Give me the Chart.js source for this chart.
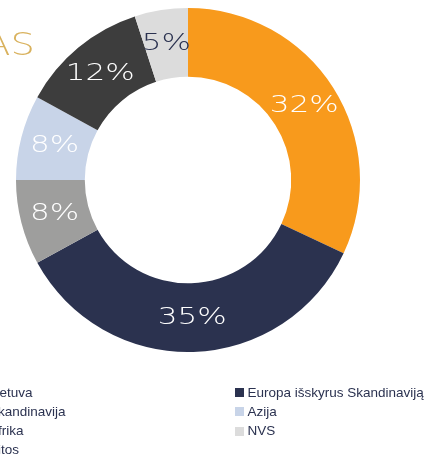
<!DOCTYPE html>
<html>
<head>
<meta charset="utf-8">
<script src="https://cdn.jsdelivr.net/npm/chart.js@4.4.1/dist/chart.umd.min.js"></script>
<style>
html,body{margin:0;padding:0;background:#fff;width:428px;height:461px;overflow:hidden;}
#page{position:relative;width:428px;height:461px;overflow:hidden;}
#chartBox{position:absolute;left:0;top:0;width:428px;height:461px;}
#title{position:absolute;right:393px;top:26px;font-family:"DejaVu Sans",sans-serif;font-weight:200;font-size:32.5px;line-height:36px;color:#D9B25E;white-space:nowrap;transform:scaleX(1.18);transform-origin:right center;}
.lg{position:absolute;font-family:"Liberation Sans",Arial,sans-serif;font-size:13.5px;line-height:16px;color:#2B3250;white-space:nowrap;}
.mk{position:absolute;width:9px;height:9px;}
</style>
</head>
<body>
<div id="page">
  <div id="chartBox"><canvas id="c"></canvas></div>
  <div id="title">AS</div>
  <div id="legend"></div>
</div>
<script>
// ---- data ----
const categories = ["Lietuva", "Europa išskyrus Skandinaviją", "Skandinavija", "Azija", "Afrika", "NVS", "Kitos"];
const shares = [32, 35, 8, 8, 12, 5, 0];
// ---- styles ----
const sliceColors = ["#F89A1C", "#2B324F", "#9E9E9D", "#C8D4E8", "#3D3D3D", "#DCDCDC", "#E9C27A"];
const labelColors = ["#FFFFFF", "#FFFFFF", "#FFFFFF", "#FFFFFF", "#FFFFFF", "#2B3250", "#FFFFFF"];

const pctLabels = {
  id: 'pctLabels',
  afterDatasetsDraw(chart) {
    const ctx = chart.ctx;
    const meta = chart.getDatasetMeta(0);
    meta.data.forEach((arc, i) => {
      const v = chart.data.datasets[0].data[i];
      if (!v) return;
      const p = arc.tooltipPosition();
      ctx.save();
      ctx.translate(p.x, p.y);
      ctx.scale(1.32, 1);
      ctx.font = '200 23.5px "DejaVu Sans", sans-serif';
      ctx.fillStyle = labelColors[i];
      ctx.textAlign = 'center';
      ctx.textBaseline = 'middle';
      ctx.fillText(v + '%', 0, 0);
      ctx.restore();
    });
  }
};

new Chart(document.getElementById('c'), {
  type: 'doughnut',
  data: {
    labels: categories,
    datasets: [{
      data: shares,
      backgroundColor: sliceColors,
      borderWidth: 0,
      hoverOffset: 0
    }]
  },
  options: {
    responsive: true,
    maintainAspectRatio: false,
    animation: false,
    cutout: '60%',
    layout: { padding: { left: 16, top: 8, right: 68, bottom: 109 } },
    plugins: { legend: { display: false }, tooltip: { enabled: false } }
  },
  plugins: [pctLabels]
});

// HTML legend, row-major in two columns
const legend = document.getElementById('legend');
const colX = [-23.5, 235];
const rowY = [388, 407.3, 426.5, 445.7];
categories.forEach((name, i) => {
  const col = i % 2, row = Math.floor(i / 2);
  const mk = document.createElement('div');
  mk.className = 'mk';
  mk.style.left = colX[col] + 'px';
  mk.style.top = rowY[row] + 'px';
  mk.style.background = sliceColors[i];
  legend.appendChild(mk);
  const t = document.createElement('div');
  t.className = 'lg';
  t.textContent = name;
  t.style.left = (colX[col] + 12.5) + 'px';
  t.style.top = (rowY[row] - 3.5) + 'px';
  legend.appendChild(t);
});
</script>
</body>
</html>
